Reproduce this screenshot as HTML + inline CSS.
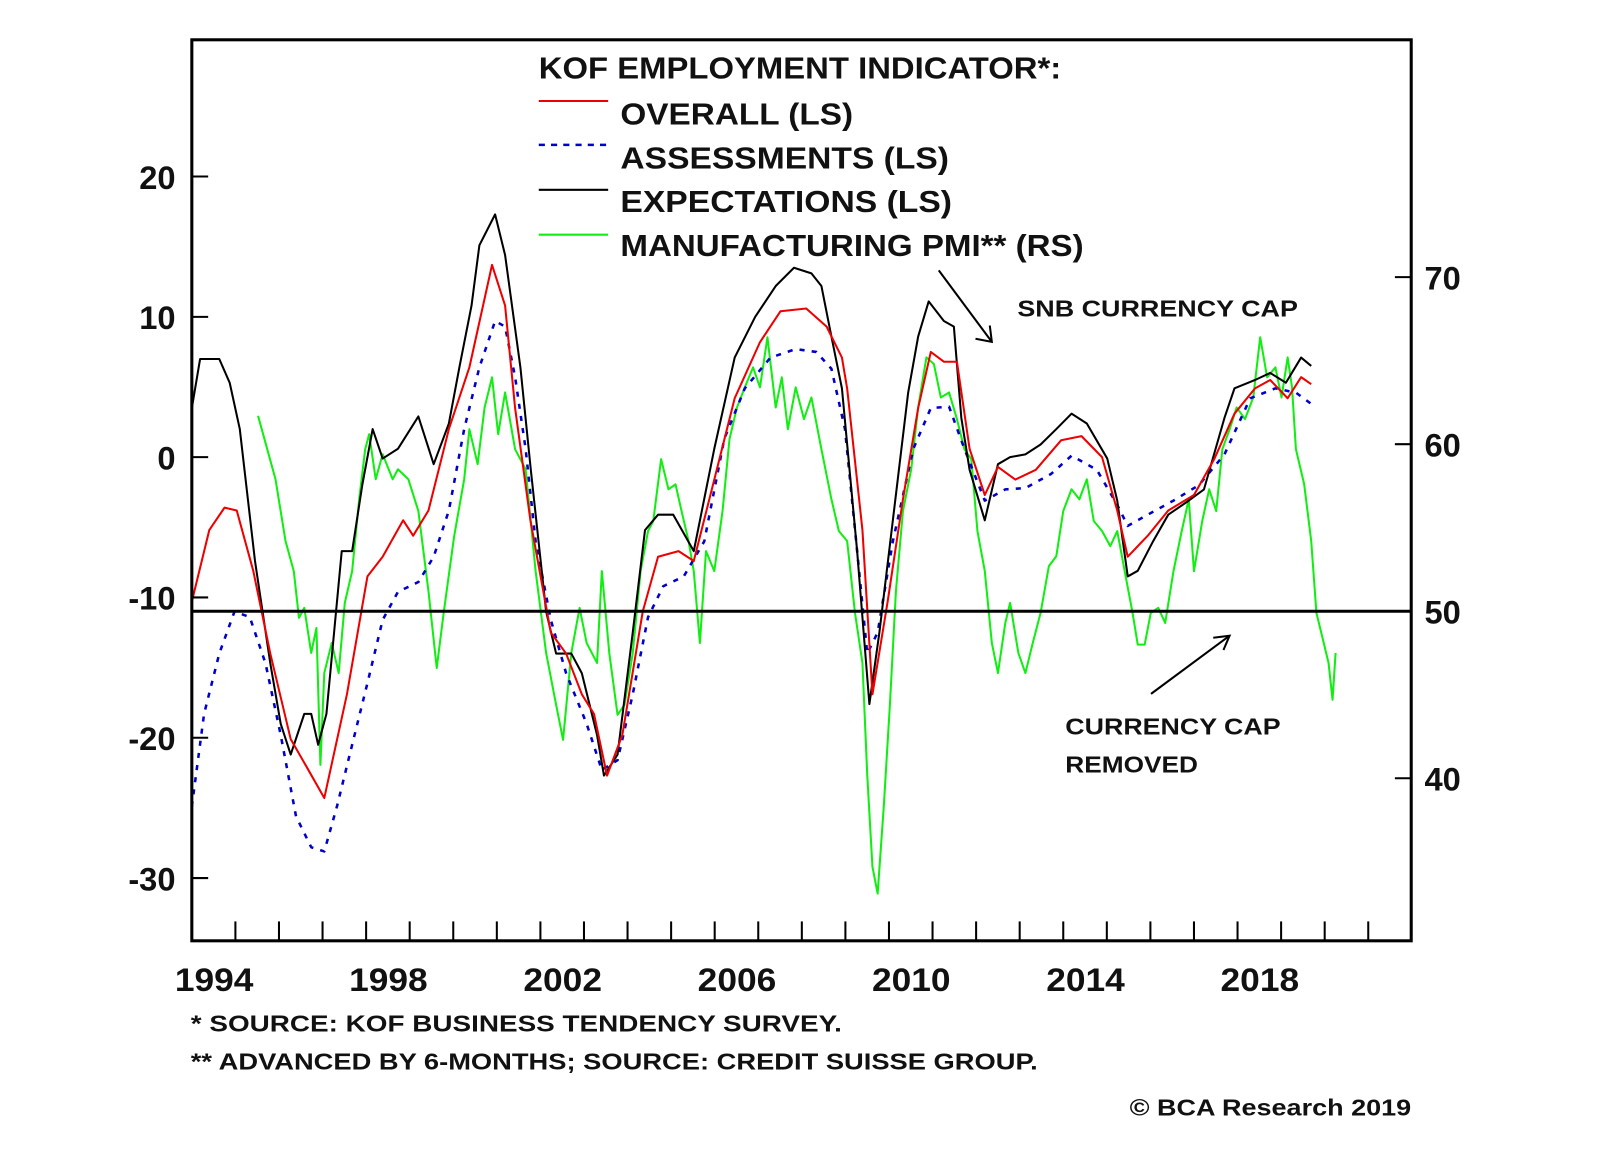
<!DOCTYPE html>
<html><head><meta charset="utf-8"><style>
html,body{margin:0;padding:0;background:#fff;}
svg{display:block;}
text{font-family:"Liberation Sans",Arial,sans-serif;font-weight:bold;fill:#111;}
</style></head><body>
<svg id="chart" width="1600" height="1152" viewBox="0 0 1600 1152" xmlns="http://www.w3.org/2000/svg">
<rect x="0" y="0" width="1600" height="1152" fill="#fff"/>
<g transform="scale(1.0204)">
<g id="series"></g>
<g id="axes"></g>
<rect x="188" y="39" width="1195" height="883" fill="none" stroke="#000" stroke-width="3"/>
<g>
<text x="528" y="77" font-size="30" textLength="512" lengthAdjust="spacingAndGlyphs">KOF EMPLOYMENT INDICATOR*:</text>
<line x1="528" y1="99" x2="596" y2="99" stroke="#e00" stroke-width="2"/>
<text x="608" y="122" font-size="30" textLength="228" lengthAdjust="spacingAndGlyphs">OVERALL (LS)</text>
<line x1="528" y1="142" x2="596" y2="142" stroke="#00c" stroke-width="2.5" stroke-dasharray="6,6"/>
<text x="608" y="165" font-size="30" textLength="322" lengthAdjust="spacingAndGlyphs">ASSESSMENTS (LS)</text>
<line x1="528" y1="186" x2="596" y2="186" stroke="#000" stroke-width="2"/>
<text x="608" y="208" font-size="30" textLength="325" lengthAdjust="spacingAndGlyphs">EXPECTATIONS (LS)</text>
<line x1="528" y1="230" x2="596" y2="230" stroke="#1e1" stroke-width="2"/>
<text x="608" y="251" font-size="30" textLength="454" lengthAdjust="spacingAndGlyphs">MANUFACTURING PMI** (RS)</text>
</g>
<g>
<text x="997" y="310" font-size="23" textLength="275" lengthAdjust="spacingAndGlyphs">SNB CURRENCY CAP</text>
<line x1="920" y1="265" x2="972" y2="335" stroke="#000" stroke-width="2"/>
<polyline points="956,332 972,335 970,319" fill="none" stroke="#000" stroke-width="2"/>
</g>
<g>
<text x="1044" y="720" font-size="23" textLength="211" lengthAdjust="spacingAndGlyphs">CURRENCY CAP</text>
<text x="1044" y="757" font-size="23" textLength="130" lengthAdjust="spacingAndGlyphs">REMOVED</text>
<line x1="1128" y1="680" x2="1205" y2="623" stroke="#000" stroke-width="2"/>
<polyline points="1189,625 1205,623 1199,637" fill="none" stroke="#000" stroke-width="2"/>
</g>
<text x="187" y="1011" font-size="23" textLength="638" lengthAdjust="spacingAndGlyphs">*  SOURCE: KOF BUSINESS TENDENCY SURVEY.</text>
<text x="187" y="1048" font-size="23" textLength="830" lengthAdjust="spacingAndGlyphs">** ADVANCED BY 6-MONTHS; SOURCE: CREDIT SUISSE GROUP.</text>
<text x="1107" y="1093" font-size="23" textLength="276" lengthAdjust="spacingAndGlyphs">© BCA Research 2019</text>
</g>
</svg>
<script>
const leftTicks = [20, 10, 0, -10, -20, -30];
const rightTicks = [70, 60, 50, 40];
const yearLabels = [1994, 1998, 2002, 2006, 2010, 2014, 2018];
const pmiReference = 50;

const overallDates = [1994,1994.4,1994.75,1995.03,1995.41,1995.8,1996.27,1996.62,1997.04,1997.56,1998.03,1998.38,1998.85,1999.08,1999.43,1999.9,2000.37,2000.89,2001.19,2001.42,2001.77,2002.24,2002.59,2002.95,2003.23,2003.53,2003.88,2004.35,2004.7,2005.17,2005.52,2005.99,2006.46,2007.04,2007.51,2008.1,2008.57,2008.92,2009.04,2009.39,2009.62,2009.97,2010.32,2010.67,2010.96,2011.26,2011.56,2011.85,2012.2,2012.5,2012.9,2013.37,2013.95,2014.42,2014.89,2015.24,2015.48,2015.94,2016.41,2017.0,2017.47,2017.93,2018.4,2018.75,2019.15,2019.46,2019.69];
const overallValues = [-10.3,-5.2,-3.6,-3.8,-8.1,-14,-20.1,-22,-24.3,-16.9,-8.5,-7.1,-4.5,-5.6,-3.8,2,6.4,13.7,10.8,3.5,-4.5,-12.5,-14,-16.9,-18.3,-22.7,-19.8,-11,-7.1,-6.7,-7.4,-1.6,4.2,8.2,10.4,10.6,9.3,7.1,4.9,-5.2,-16.9,-10.3,-3,3.5,7.5,6.8,6.8,0.6,-2.7,-0.7,-1.6,-0.9,1.2,1.5,0,-3.8,-7.1,-5.6,-3.8,-2.7,-0.1,3.1,4.9,5.5,4.2,5.7,5.2];

const expectationsDates = [1994,1994.19,1994.63,1994.87,1995.1,1995.45,1995.8,1996.04,1996.27,1996.58,1996.74,1996.9,1997.09,1997.44,1997.68,1997.91,1998.15,1998.38,1998.73,1999.2,1999.55,1999.9,2000.14,2000.42,2000.6,2000.96,2001.19,2001.54,2001.78,2002.13,2002.36,2002.71,2002.95,2003.3,2003.46,2003.77,2004.12,2004.4,2004.7,2005.05,2005.52,2005.99,2006.46,2006.93,2007.4,2007.82,2008.22,2008.45,2008.68,2008.92,2009.27,2009.55,2009.78,2010.09,2010.44,2010.67,2010.91,2011.26,2011.49,2011.66,2011.85,2012.2,2012.5,2012.78,2013.13,2013.48,2013.84,2014.19,2014.54,2015.01,2015.24,2015.48,2015.71,2016.06,2016.41,2016.88,2017.23,2017.7,2017.93,2018.4,2018.75,2019.11,2019.46,2019.69];
const expectationsValues = [3.5,7,7,5.3,2,-7.4,-14.7,-19,-21.2,-18.3,-18.3,-20.5,-18.3,-6.7,-6.7,-2,2,-0.1,0.6,2.9,-0.5,2.4,6.4,10.8,15.1,17.3,14.4,6.4,-0.9,-11,-14,-14,-15.4,-19.8,-22.7,-21.2,-12.5,-5.2,-4.1,-4.1,-6.7,0.6,7.1,10,12.2,13.5,13.1,12.2,8.6,4.9,-6.7,-17.6,-12.5,-4.5,4.6,8.6,11.1,9.7,9.3,2.8,-0.9,-4.5,-0.5,0,0.2,0.9,2,3.1,2.4,-0.1,-3.1,-8.5,-8.1,-6,-4.1,-3.1,-2.3,2.8,4.9,5.5,6,5.3,7.1,6.5];

const assessmentsDates = [1994,1994.28,1994.63,1994.98,1995.33,1995.69,1996.04,1996.39,1996.74,1997.04,1997.33,1997.68,1998.03,1998.38,1998.73,1999.2,1999.55,1999.9,2000.25,2000.6,2000.96,2001.19,2001.42,2001.66,2001.89,2002.24,2002.59,2003.06,2003.41,2003.77,2004.12,2004.47,2004.82,2005.29,2005.76,2006.22,2006.69,2007.28,2007.86,2008.33,2008.68,2008.99,2009.27,2009.5,2009.74,2010.09,2010.56,2010.96,2011.38,2011.73,2012.2,2012.67,2013.13,2013.72,2014.19,2014.77,2015.24,2015.48,2015.94,2016.53,2017.11,2017.7,2018.29,2018.87,2019.34,2019.69];
const assessmentsValues = [-24.9,-18.3,-14,-11,-11.4,-14.7,-19.8,-25.6,-27.8,-28.1,-24.9,-20.5,-16.1,-11.6,-9.6,-8.9,-7.1,-3.8,2,6.4,9.7,9.3,5.7,0.6,-6,-11.6,-15.4,-19,-22.3,-21.6,-16.9,-11.4,-9.2,-8.5,-6,1.3,4.9,7.1,7.7,7.5,6.3,2,-6.7,-14,-12.5,-6,0.6,3.5,3.6,0.6,-3.1,-2.3,-2.2,-1.2,0.1,-0.9,-3.4,-4.9,-4.1,-3.1,-2,0.2,4.2,4.9,4.6,3.8];

const pmiDates = [1995.52,1995.73,1995.92,1996.15,1996.34,1996.46,1996.58,1996.74,1996.86,1996.95,1997.04,1997.21,1997.37,1997.51,1997.68,1997.84,1997.98,1998.07,1998.22,1998.38,1998.61,1998.73,1998.97,1999.2,1999.43,1999.62,1999.78,2000.02,2000.25,2000.37,2000.56,2000.72,2000.89,2001.03,2001.19,2001.42,2001.66,2001.89,2002.13,2002.36,2002.52,2002.71,2002.9,2003.06,2003.3,2003.41,2003.58,2003.77,2003.93,2004.12,2004.3,2004.47,2004.59,2004.77,2004.94,2005.1,2005.24,2005.4,2005.52,2005.66,2005.8,2005.99,2006.18,2006.34,2006.51,2006.69,2006.88,2007.04,2007.21,2007.4,2007.54,2007.68,2007.86,2008.05,2008.22,2008.45,2008.68,2008.85,2009.04,2009.22,2009.39,2009.5,2009.62,2009.74,2009.88,2010.02,2010.16,2010.32,2010.51,2010.67,2010.86,2011.03,2011.19,2011.38,2011.56,2011.73,2011.89,2012.03,2012.2,2012.36,2012.5,2012.67,2012.78,2012.97,2013.13,2013.3,2013.48,2013.67,2013.84,2014.0,2014.19,2014.37,2014.54,2014.7,2014.89,2015.08,2015.24,2015.41,2015.59,2015.71,2015.87,2016.01,2016.18,2016.34,2016.53,2016.72,2016.88,2017.0,2017.19,2017.35,2017.51,2017.65,2017.82,2017.98,2018.17,2018.36,2018.52,2018.68,2018.87,2019.01,2019.15,2019.25,2019.34,2019.53,2019.69,2019.81,2019.95,2020.09,2020.18,2020.25];
const pmiValues = [61.7,59.7,57.9,54.2,52.4,49.6,50.2,47.5,49,40.8,46.3,48.1,46.3,50.5,52.4,56.7,59.7,60.6,57.9,59.4,57.9,58.5,57.9,56,51.2,46.6,49.9,54.5,57.9,60.9,58.8,62.2,64,60.6,63.1,59.7,58.5,52.4,47.5,44.4,42.3,47.5,50.2,48.1,46.9,52.4,47.5,43.8,44.4,47.5,52.4,54.8,55.4,59.1,57.3,57.6,56,54.2,52.4,48.1,53.6,52.4,56,60.3,62.2,63.4,64.6,63.4,66.4,62.2,64,60.9,63.4,61.5,62.8,59.7,56.7,54.8,54.2,49.9,46.9,40.2,34.7,33.1,38.3,44.4,51.2,56,58.5,62.2,65.2,64.8,62.8,63.1,61.5,59.7,59.1,54.8,52.4,48.1,46.3,49.3,50.5,47.5,46.3,48.1,49.9,52.7,53.3,56,57.3,56.7,57.9,55.4,54.8,53.9,54.8,52.4,49.9,48,48,49.9,50.2,49.3,52.4,54.8,56.7,52.4,55.4,57.3,56,59.7,60.9,62.2,61.5,62.8,66.4,64,64.6,62.8,65.2,63.4,59.7,57.6,54.2,49.9,48.4,46.9,44.7,47.5];

const NS = "http://www.w3.org/2000/svg";
const X0 = 188, PX_PER_YEAR = 42.7;
function xScale(year){ return X0 + (year - 1994) * PX_PER_YEAR; }
function yLeft(v){ return 448 - v * 13.75; }
function yRight(v){ return 599 - (v - 50) * 16.37; }

const seriesG = document.getElementById('series');
const axesG = document.getElementById('axes');

function drawLine(dates, vals, yfn, color, width, dash, name){
  const pts = dates.map((d,i)=> xScale(d).toFixed(1)+','+yfn(vals[i]).toFixed(1)).join(' ');
  const pl = document.createElementNS(NS,'polyline');
  pl.setAttribute('points', pts);
  pl.setAttribute('fill','none');
  pl.setAttribute('stroke', color);
  pl.setAttribute('stroke-width', width);
  pl.setAttribute('stroke-linejoin','round');
  if (dash) pl.setAttribute('stroke-dasharray', dash);
  
  
  seriesG.appendChild(pl);
}
drawLine(pmiDates, pmiValues, yRight, '#1e1', 2, null, 'line-manufacturing-pmi');
drawLine(assessmentsDates, assessmentsValues, yLeft, '#00c', 2.5, '5,7', 'line-assessments');
drawLine(expectationsDates, expectationsValues, yLeft, '#000', 2, null, 'line-expectations');
drawLine(overallDates, overallValues, yLeft, '#e00', 2, null, 'line-overall');

const ref = document.createElementNS(NS,'line');
ref.setAttribute('x1', X0); ref.setAttribute('x2', 1383);
ref.setAttribute('y1', yRight(pmiReference)); ref.setAttribute('y2', yRight(pmiReference));
ref.setAttribute('stroke','#000'); ref.setAttribute('stroke-width','3');


axesG.appendChild(ref);

leftTicks.forEach(v=>{
  const y = yLeft(v);
  const t = document.createElementNS(NS,'line');
  t.setAttribute('x1',188); t.setAttribute('x2',204); t.setAttribute('y1',y); t.setAttribute('y2',y);
  t.setAttribute('stroke','#000'); t.setAttribute('stroke-width','2');
  
  
  axesG.appendChild(t);
  const tx = document.createElementNS(NS,'text');
  tx.setAttribute('x',172); tx.setAttribute('y',y+12); tx.setAttribute('text-anchor','end'); tx.setAttribute('font-size','32');
  tx.textContent = String(v);
  
  
  axesG.appendChild(tx);
});
rightTicks.forEach(v=>{
  const y = yRight(v);
  const t = document.createElementNS(NS,'line');
  t.setAttribute('x1',1367); t.setAttribute('x2',1383); t.setAttribute('y1',y); t.setAttribute('y2',y);
  t.setAttribute('stroke','#000'); t.setAttribute('stroke-width','2');
  
  
  axesG.appendChild(t);
  const tx = document.createElementNS(NS,'text');
  tx.setAttribute('x',1396); tx.setAttribute('y',y+12); tx.setAttribute('font-size','32');
  tx.textContent = String(v);
  
  
  axesG.appendChild(tx);
});
for (let yr = 1995; yr <= 2021; yr++){
  const x = xScale(yr);
  const t = document.createElementNS(NS,'line');
  t.setAttribute('x1',x); t.setAttribute('x2',x); t.setAttribute('y1',922); t.setAttribute('y2',903);
  t.setAttribute('stroke','#000'); t.setAttribute('stroke-width','2');
  
  
  axesG.appendChild(t);
}
yearLabels.forEach(yr=>{
  const tx = document.createElementNS(NS,'text');
  tx.setAttribute('x', xScale(yr + 0.5) - 38); tx.setAttribute('y', 971); tx.setAttribute('font-size','32');
  tx.setAttribute('textLength','77'); tx.setAttribute('lengthAdjust','spacingAndGlyphs');
  tx.textContent = String(yr);
  
  
  axesG.appendChild(tx);
});
</script>
</body></html>
